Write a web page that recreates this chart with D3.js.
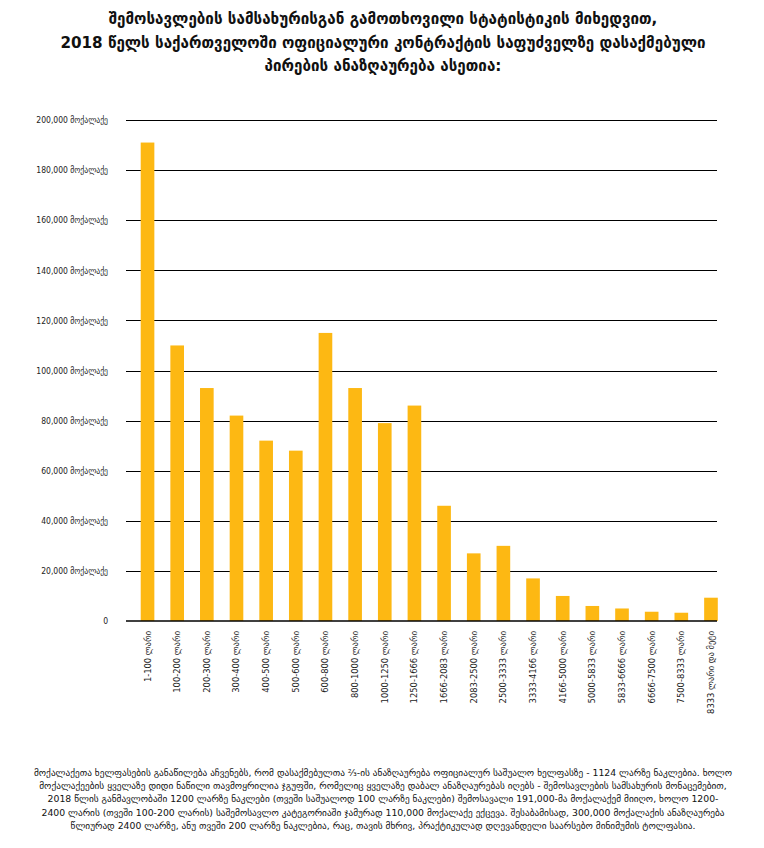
<!DOCTYPE html>
<html>
<head>
<meta charset="utf-8">
<script src="https://cdn.jsdelivr.net/npm/d3@7"></script>
<style>
  html, body { margin: 0; padding: 0; background: #fff; }
  svg { display: block; }
</style>
</head>
<body>
<svg id="chart" width="764" height="848"></svg>
<script>
const titleLines = [
  "შემოსავლების სამსახურისგან გამოთხოვილი სტატისტიკის მიხედვით,",
  "2018 წელს საქართველოში ოფიციალური კონტრაქტის საფუძველზე დასაქმებული",
  "პირების ანაზღაურება ასეთია:"
];
const categories = [
  "1-100 ლარი", "100-200 ლარი", "200-300 ლარი", "300-400 ლარი", "400-500 ლარი",
  "500-600 ლარი", "600-800 ლარი", "800-1000 ლარი", "1000-1250 ლარი", "1250-1666 ლარი",
  "1666-2083 ლარი", "2083-2500 ლარი", "2500-3333 ლარი", "3333-4166 ლარი", "4166-5000 ლარი",
  "5000-5833 ლარი", "5833-6666 ლარი", "6666-7500 ლარი", "7500-8333 ლარი", "8333 ლარი და მეტი"
];
const values = [
  191000, 110000, 93000, 82000, 72000,
  68000, 115000, 93000, 79000, 86000,
  46000, 27000, 30000, 17000, 10000,
  6000, 5000, 3700, 3300, 9300
];
const yTicks = [0, 20000, 40000, 60000, 80000, 100000, 120000, 140000, 160000, 180000, 200000];
const yUnit = "მოქალაქე";
const footnoteLines = [
  "მოქალაქეთა ხელფასების განაწილება აჩვენებს, რომ დასაქმებულთა ⅔-ის ანაზღაურება ოფიციალურ საშუალო ხელფასზე - 1124 ლარზე ნაკლებია. ხოლო",
  "მოქალაქეების ყველაზე დიდი ნაწილი თავმოყრილია ჯგუფში, რომელიც ყველაზე დაბალ ანაზღაურებას იღებს - შემოსავლების სამსახურის მონაცემებით,",
  "2018 წლის განმავლობაში 1200 ლარზე ნაკლები (თვეში საშუალოდ 100 ლარზე ნაკლები) შემოსავალი 191,000-მა მოქალაქემ მიიღო, ხოლო 1200-",
  "2400 ლარის (თვეში 100-200 ლარის) საშემოსავლო კატეგორიაში ჯამურად 110,000 მოქალაქე ექცევა. შესაბამისად, 300,000 მოქალაქის ანაზღაურება",
  "წლიურად 2400 ლარზე, ანუ თვეში 200 ლარზე ნაკლებია, რაც, თავის მხრივ, პრაქტიკულად დღევანდელი საარსებო მინიმუმის ტოლფასია."
];

const svg = d3.select("#chart");
const barColor = "#FDB813";

// Title
svg.append("g").selectAll("text").data(titleLines).join("text")
  .attr("x", 383).attr("y", (d, i) => 24 + i * 23.5)
  .attr("text-anchor", "middle")
  .attr("font-family", "DejaVu Sans, sans-serif")
  .attr("font-size", 15.2)
  .attr("font-weight", "bold")
  .attr("fill", "#111")
  .text(d => d);

const y = d3.scaleLinear().domain([0, 200000]).range([621, 120]);
const x = d3.scaleBand().domain(categories).range([132.7, 725.8]).paddingInner(0.54).paddingOuter(0.27);

const gridX1 = 126, gridX2 = 717;

// Gridlines
svg.append("g").selectAll("line").data(yTicks.filter(t => t > 0)).join("line")
  .attr("x1", gridX1).attr("x2", gridX2)
  .attr("y1", d => Math.round(y(d)) + 0.5).attr("y2", d => Math.round(y(d)) + 0.5)
  .attr("stroke", "#000").attr("stroke-width", 1);

// Y labels
const yAxis = d3.axisLeft(y).tickValues(yTicks).tickSize(0)
  .tickFormat(d => d === 0 ? "0" : d3.format(",")(d) + " " + yUnit);
const yg = svg.append("g").attr("transform", "translate(108,0)").call(yAxis);
yg.select(".domain").remove();
yg.selectAll("text")
  .attr("x", 0).attr("dy", "0.32em")
  .attr("font-family", "'DejaVu Sans Condensed', 'Liberation Sans Narrow', sans-serif")
  .attr("font-size", 8.5)
  .attr("fill", "#222");

// Bars
svg.append("g").selectAll("rect").data(values).join("rect")
  .attr("x", (d, i) => x(categories[i]))
  .attr("width", x.bandwidth())
  .attr("y", d => y(d))
  .attr("height", d => y(0) - y(d))
  .attr("fill", barColor);

// Baseline
svg.append("line")
  .attr("x1", gridX1).attr("x2", gridX2)
  .attr("y1", 621).attr("y2", 621)
  .attr("stroke", "#000").attr("stroke-width", 1.5);

// X labels
const xAxis = d3.axisBottom(x).tickSize(0);
const xg = svg.append("g").attr("transform", "translate(0,621)").call(xAxis);
xg.select(".domain").remove();
xg.selectAll("text")
  .attr("transform", "rotate(-90)")
  .attr("x", -10).attr("y", 0).attr("dy", "0.32em")
  .attr("text-anchor", "end")
  .attr("font-family", "'DejaVu Sans Condensed', 'Liberation Sans Narrow', sans-serif")
  .attr("font-size", 9.3)
  .attr("fill", "#222");

// Footnote
svg.append("g").selectAll("text").data(footnoteLines).join("text")
  .attr("x", 383).attr("y", (d, i) => 776 + i * 13.2)
  .attr("text-anchor", "middle")
  .attr("font-family", "DejaVu Sans, sans-serif")
  .attr("font-size", 9.3)
  .attr("fill", "#111")
  .text(d => d);
</script>
</body>
</html>
